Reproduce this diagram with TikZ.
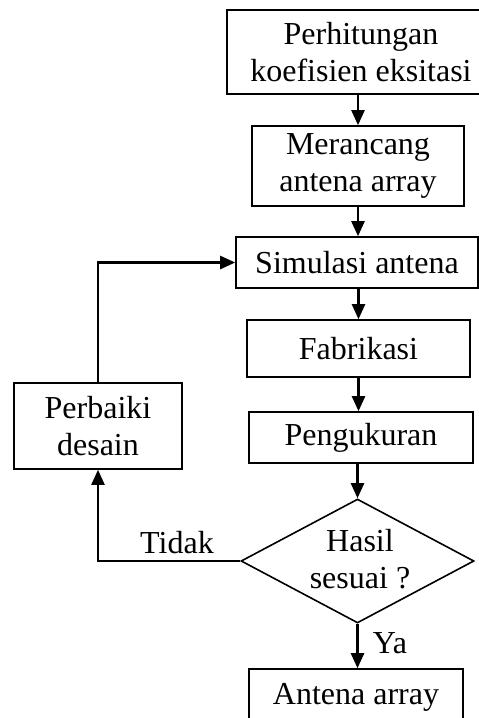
\documentclass[tikz,border=0pt]{standalone}
\usepackage{fontspec}
\setmainfont{Liberation Serif}
\usetikzlibrary{arrows.meta,shapes.geometric}
\begin{document}
\begin{tikzpicture}[x=1pt,y=-1pt,
  font=\fontsize{32}{37}\selectfont,
  box/.style={draw, line width=1.6pt, inner sep=0pt, align=center},
  flow/.style={line width=2.4pt, -{Triangle[length=15pt,width=13pt]}},
  lbl/.style={inner sep=0pt, align=center}]
\useasboundingbox (0,0) rectangle (479,718);
\node[box, minimum width=290, minimum height=84] (b1) at (372,52) {};
\node[lbl] (b1t) at (361,52) {Perhitungan\\koefisien eksitasi};
\node[box, minimum width=212, minimum height=80] (b2) at (358,166) {Merancang\\antena array};
\node[box, minimum width=242, minimum height=51] (b3) at (357,262.5) {Simulasi antena};
\node[box, minimum width=223, minimum height=57] (b4) at (358.5,348.5) {Fabrikasi};
\node[box, minimum width=224, minimum height=51] (b5) at (361,437.5) {Pengukuran};
\node[box, minimum width=168, minimum height=86] (pb) at (98,426) {Perbaiki\\desain};
\node[draw, diamond, line width=1.6pt, inner sep=0pt, minimum width=233, minimum height=124] (dm) at (357.5,561) {};
\node[lbl] (dmt) at (360,559) {Hasil\\sesuai ?};
\node[box, minimum width=214, minimum height=56] (ant) at (356,697) {Antena array};
\node[lbl] (tidak) at (177,543) {Tidak};
\node[lbl] (ya) at (390,643) {Ya};
\draw[flow] (b1.south -| b2.north) -- (b2.north);
\draw[flow] (b2.south) -- (b2.south |- b3.north);
\draw[flow] (b4.north |- b3.south) -- (b4.north);
\draw[flow] (b4.south) -- (b4.south |- b5.north);
\draw[flow] (dm.north |- b5.south) -- (dm.north);
\draw[flow] (dm.south) -- (dm.south |- ant.north);
\draw[flow] (pb.north) |- (b3.west);
\draw[flow] (dm.west) -| (pb.south);
\end{tikzpicture}
\end{document}
